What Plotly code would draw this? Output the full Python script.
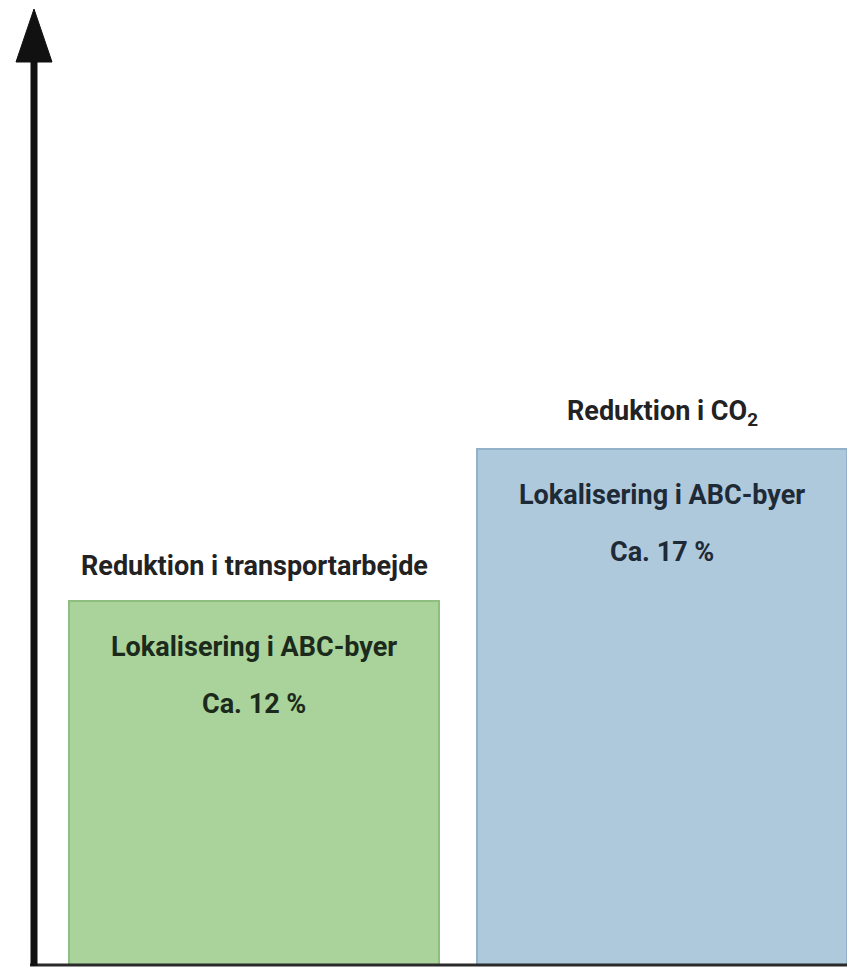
import plotly.graph_objects as go

categories = ["Reduktion i transportarbejde", "Reduktion i CO<sub>2</sub>"]
values = [12, 17]
inner_line1 = ["Lokalisering i ABC-byer", "Lokalisering i ABC-byer"]
inner_line2 = ["Ca. 12 %", "Ca. 17 %"]
fill_colors = ["#a9d39b", "#aec8dc"]
edge_colors = ["#8fbf80", "#93b2c9"]
text_colors = ["#1c2a1c", "#1e2a36"]

W, H = 847, 967
FONT = "Roboto, sans-serif"
FS = 27

xs = list(range(len(values)))
fig = go.Figure(go.Bar(
    x=xs, y=values, width=0.906,
    marker=dict(color=fill_colors, line=dict(color=edge_colors, width=2)),
    hoverinfo="skip",
))

label_shift = [22, 23]
annotations = []
for i, v in enumerate(values):
    annotations.append(dict(x=i, y=v, xref="x", yref="y", text=categories[i],
                            showarrow=False, yanchor="middle", yshift=label_shift[i] + 13,
                            font=dict(family=FONT, size=FS, color="#222", weight=700)))
    annotations.append(dict(x=i, y=v, xref="x", yref="y", text=inner_line1[i],
                            showarrow=False, yanchor="middle", yshift=-46,
                            font=dict(family=FONT, size=FS, color=text_colors[i], weight=700)))
    annotations.append(dict(x=i, y=v, xref="x", yref="y", text=inner_line2[i],
                            showarrow=False, yanchor="middle", yshift=-103,
                            font=dict(family=FONT, size=FS, color=text_colors[i], weight=700)))

px = lambda x: x / W
py = lambda y: 1 - y / (H - 2)

shapes = [
    dict(type="line", xref="paper", yref="paper", x0=px(30), x1=1, y0=py(965), y1=py(965),
         line=dict(color="#2a2a2a", width=3)),
    dict(type="line", xref="paper", yref="paper", x0=px(34), x1=px(34), y0=py(966), y1=py(50),
         line=dict(color="#111", width=7)),
    dict(type="path", xref="paper", yref="paper",
         path=f"M {px(34)} {py(9)} L {px(16)} {py(62)} L {px(52)} {py(62)} Z",
         fillcolor="#111", line=dict(color="#111", width=1)),
]

fig.update_layout(
    width=W, height=H,
    margin=dict(l=0, r=0, t=0, b=2),
    paper_bgcolor="white", plot_bgcolor="white",
    showlegend=False,
    bargap=0,
    xaxis=dict(range=[-0.622, 1.452], visible=False, fixedrange=True),
    yaxis=dict(range=[0, 31.8], visible=False, fixedrange=True),
    annotations=annotations,
    shapes=shapes,
)

fig.write_html("out.html")
